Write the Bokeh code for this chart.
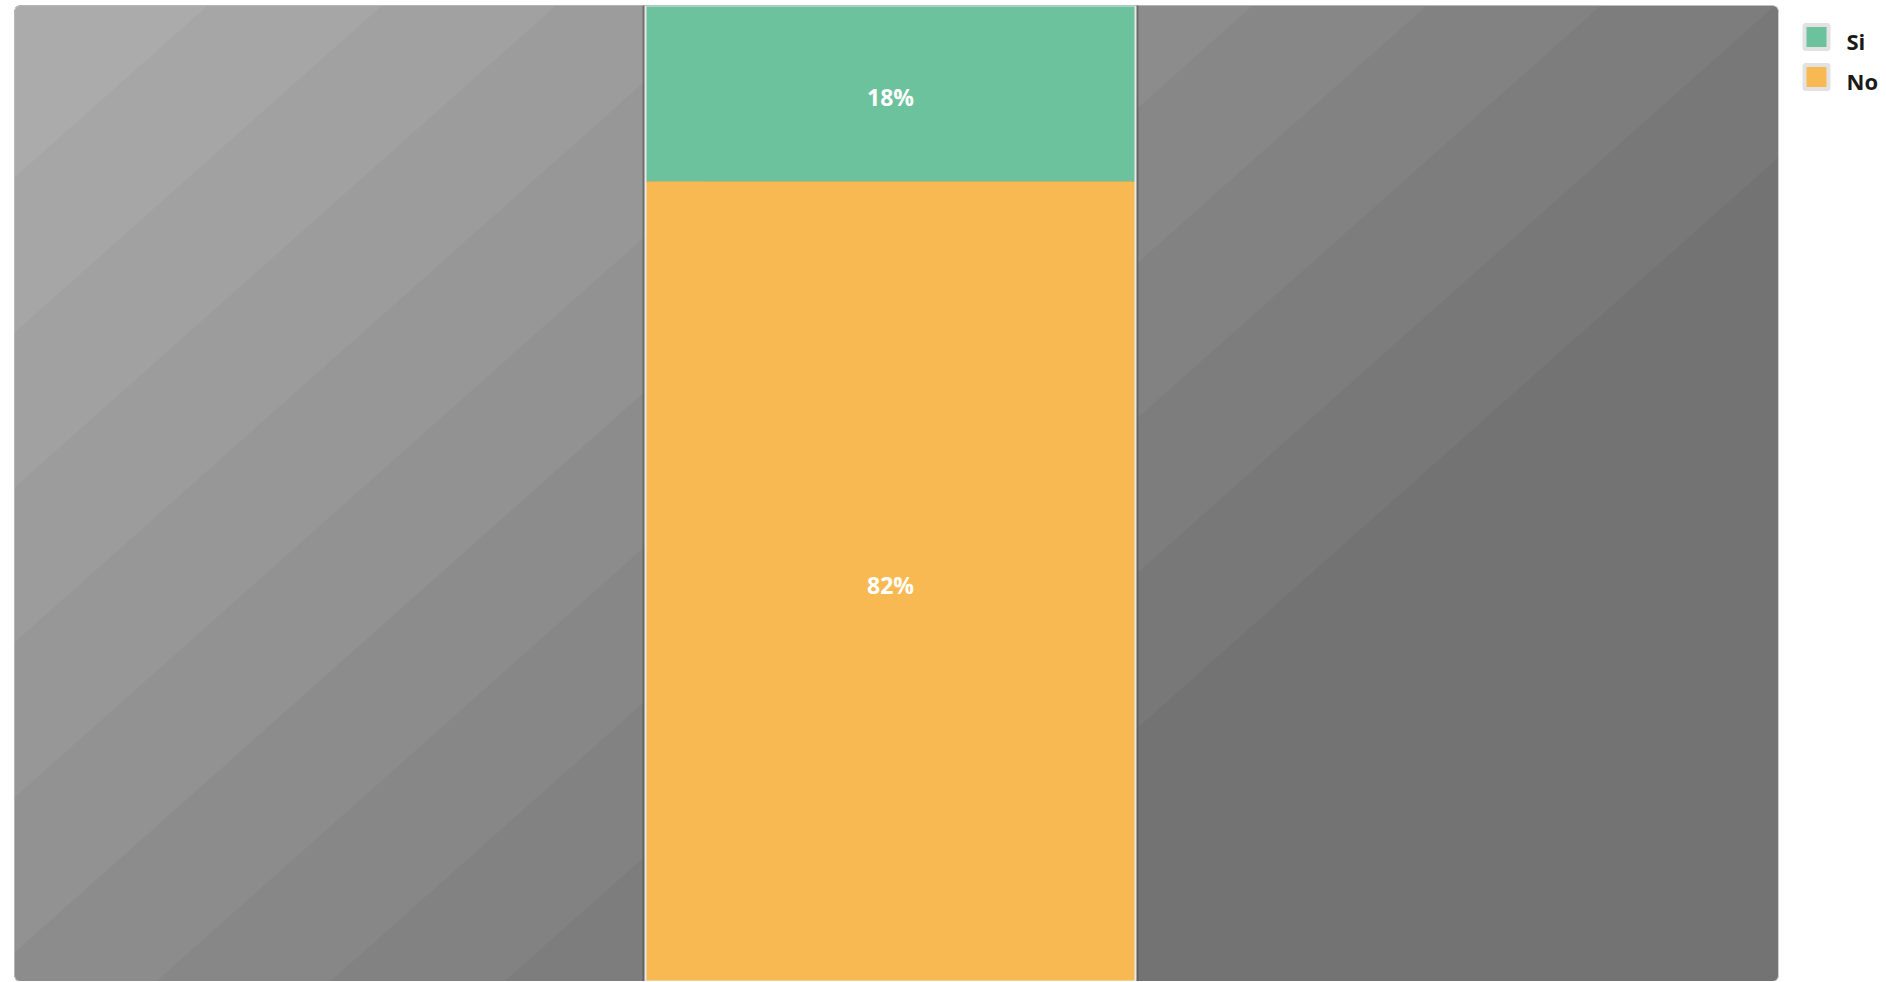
import numpy as np
from bokeh.plotting import figure
from bokeh.models import Range1d, ColumnDataSource
from bokeh.core.properties import value
from bokeh.embed import file_html
from bokeh.resources import INLINE

# ---------------- data ----------------
categories = ["Si", "No"]
values = [18, 82]
colors = ["#6cc29c", "#f9b952"]
value_labels = ["18%", "82%"]

# ---------------- layout ----------------
FIG_W, FIG_H = 1880, 981
BORDER_LEFT, BORDER_TOP = 14, 5
FRAME_W = FIG_W - BORDER_LEFT
FRAME_H = FIG_H - BORDER_TOP
PANEL_W = 1764           # width of the gray panel (px)
BAR_LEFT, BAR_W = 631, 490

x_start = -(BAR_LEFT + BAR_W / 2) / BAR_W
x_end = x_start + FRAME_W / BAR_W

p = figure(width=FIG_W, height=FIG_H, output_backend="svg", toolbar_location=None,
           x_range=Range1d(x_start, x_end), y_range=Range1d(0, 100),
           x_axis_location=None, y_axis_location=None,
           min_border_left=BORDER_LEFT, min_border_right=0,
           min_border_top=BORDER_TOP, min_border_bottom=0,
           background_fill_color="white", border_fill_color="white",
           outline_line_color=None)
p.grid.visible = False
p.extra_x_ranges = {"px": Range1d(0, FRAME_W)}
p.extra_y_ranges = {"py": Range1d(FRAME_H, 0)}

# ---------------- background panel (banded gradient) ----------------
W, H, R = PANEL_W, FRAME_H, 6


def rounded_rect(w, h, r, n=8):
    pts = []
    for cx, cy, a0 in [(w - r, h - r, 0), (r, h - r, 90), (r, r, 180), (w - r, r, 270)]:
        for a in np.linspace(a0, a0 + 90, n):
            pts.append(np.array([cx + r * np.cos(np.radians(a)), cy + r * np.sin(np.radians(a))]))
    return pts


def clip(subject, clip_pts):
    out = [np.array(q, dtype=float) for q in subject]
    n = len(clip_pts)
    for i in range(n):
        a, b = clip_pts[i], clip_pts[(i + 1) % n]
        inp, out = out, []
        if not inp:
            break

        def inside(q):
            return (b[0] - a[0]) * (q[1] - a[1]) - (b[1] - a[1]) * (q[0] - a[0]) >= 0

        def inter(s, e):
            d1 = e - s
            d2 = b - a
            den = d1[0] * d2[1] - d1[1] * d2[0]
            t = ((a[0] - s[0]) * d2[1] - (a[1] - s[1]) * d2[0]) / den
            return s + t * d1

        s = inp[-1]
        for e in inp:
            if inside(e):
                if not inside(s):
                    out.append(inter(s, e))
                out.append(e)
            elif inside(s):
                out.append(inter(s, e))
            s = e
    return out


panel = rounded_rect(W, H, R)
SLOPE = 0.89
bounds = [172 + 155 * k for k in range(11)]
levels = [round(171 - i * 56 / 11) for i in range(12)]
grays = ["#%02x%02x%02x" % (g, g, g) for g in levels]

xs, ys, fc = [], [], []
xs.append([q[0] for q in panel]); ys.append([q[1] for q in panel]); fc.append(grays[11])
for i in range(10, -1, -1):
    bnd = bounds[i]
    poly = [(-50, bnd + SLOPE * 50), (W + 50, bnd - SLOPE * (W + 50)),
            (W + 50, -6000), (-50, -6000)]
    cp = clip(poly, panel)
    if len(cp) >= 3:
        xs.append([q[0] for q in cp]); ys.append([q[1] for q in cp]); fc.append(grays[i])

p.patches(xs=xs, ys=ys, fill_color=fc, line_color=None,
          x_range_name="px", y_range_name="py")
p.patch(x=[q[0] for q in panel], y=[q[1] for q in panel], fill_color=None,
        line_color="#cfcfcf", line_width=1, x_range_name="px", y_range_name="py")

# ---------------- stacked bar ----------------
order = list(range(len(categories)))[::-1]   # "No" at the bottom
bottoms, tops, cols, labs = [], [], [], []
acc = 0
for i in order:
    bottoms.append(acc)
    acc += values[i]
    tops.append(acc)
    cols.append(colors[i])
    labs.append(value_labels[i])
src = ColumnDataSource(dict(x=[0] * len(order), bottom=bottoms, top=tops, color=cols,
                            label=labs, mid=[(b + t) / 2 for b, t in zip(bottoms, tops)]))

total = sum(values)
p.vbar(x=0, width=1, bottom=0, top=total, fill_color=None,
       line_color="#505050", line_alpha=0.6, line_width=6)
p.vbar(x="x", width=1, bottom="bottom", top="top", fill_color="color",
       line_color=None, source=src)
p.vbar(x=0, width=1, bottom=0, top=total, fill_color=None,
       line_color="#e8e8e8", line_width=2)
p.text(x="x", y="mid", text="label", source=src, y_offset=4,
       text_font=value("Open Sans"), text_font_style="bold", text_font_size="23px",
       text_color="white", text_align="center", text_baseline="middle")

# ---------------- legend ----------------
LEG_X, LEG_Y0, LEG_DY = 1802, 31.5, 40
leg = ColumnDataSource(dict(
    x=[LEG_X] * len(categories),
    y=[LEG_Y0 + k * LEG_DY for k in range(len(categories))],
    ty=[LEG_Y0 + 3.5 + k * LEG_DY for k in range(len(categories))],
    color=colors, label=categories))
p.rect(x="x", y="y", width=24, height=24, width_units="screen", height_units="screen",
       fill_color="color", line_color="#e2e2e2", line_width=4, source=leg,
       x_range_name="px", y_range_name="py")
p.text(x=LEG_X + 30, y="ty", text="label", source=leg,
       text_font=value("Open Sans"), text_font_style="bold", text_font_size="22px",
       text_color="#1a1a1a", text_align="left", text_baseline="alphabetic",
       x_range_name="px", y_range_name="py")

open("out.html", "w").write(file_html(p, INLINE))
